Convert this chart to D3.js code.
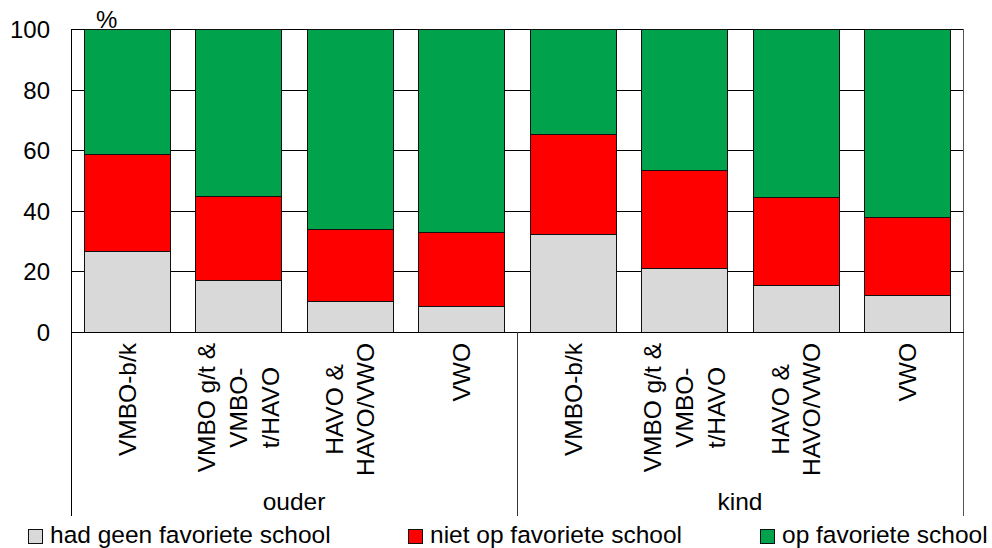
<!DOCTYPE html>
<html>
<head>
<meta charset="utf-8">
<script src="https://cdn.jsdelivr.net/npm/d3@7"></script>
<style>
  html, body { margin: 0; padding: 0; background: #fff; }
  svg { display: block; }
  text { font-family: "Liberation Sans", Arial, sans-serif; fill: #000; }
</style>
</head>
<body>
<svg id="chart" width="992" height="548"></svg>
<script>
// ---- data ----
const groups = ["ouder", "kind"];
const categoryLabels = [
  ["VMBO-b/k"],
  ["VMBO g/t &", "VMBO-", "t/HAVO"],
  ["HAVO &", "HAVO/VWO"],
  ["VWO"]
];
const seriesNames = ["had geen favoriete school", "niet op favoriete school", "op favoriete school"];
const geenFavoriet = [26.7, 17.0, 10.3, 8.7, 32.2, 21.0, 15.5, 12.3];
const nietOpFavoriet = [32.1, 28.0, 23.8, 24.4, 33.3, 32.5, 29.1, 25.8];
const opFavoriet = [41.2, 55.0, 65.9, 66.9, 34.5, 46.5, 55.4, 61.9];
const yTicks = [0, 20, 40, 60, 80, 100];
const yUnit = "%";

// ---- build table ----
const keys = ["geen", "niet", "op"];
const colors = { geen: "#d9d9d9", niet: "#ff0000", op: "#00a34b" };
const rows = [];
groups.forEach((g, gi) => {
  categoryLabels.forEach((c, ci) => {
    const i = gi * categoryLabels.length + ci;
    rows.push({ id: g + "|" + ci, group: g, lines: c,
      geen: geenFavoriet[i], niet: nietOpFavoriet[i], op: opFavoriet[i] });
  });
});

const svg = d3.select("#chart");
const L = 71, R = 963, T = 29, B = 332;
const FS = 24.5;

const x = d3.scaleBand().domain(rows.map(d => d.id)).range([L, R])
  .paddingInner(0.233).paddingOuter(0.1165);
const y = d3.scaleLinear().domain([0, 100]).range([B, T]);

const stack = d3.stack().keys(keys)(rows);

// gridlines
svg.append("g").selectAll("line").data(yTicks.filter(t => t > 0)).join("line")
  .attr("x1", L).attr("x2", R)
  .attr("y1", d => Math.round(y(d)) + 0.5).attr("y2", d => Math.round(y(d)) + 0.5)
  .attr("stroke", "#000").attr("stroke-width", 1);

// right border of plot
svg.append("line").attr("x1", R + 0.5).attr("x2", R + 0.5).attr("y1", T).attr("y2", 516)
  .attr("stroke", "#555").attr("stroke-width", 1);

// bars
svg.append("g").selectAll("g").data(stack).join("g")
  .attr("fill", d => colors[d.key])
  .selectAll("rect").data(d => d).join("rect")
  .attr("x", d => Math.round(x(d.data.id)) + 0.5)
  .attr("width", Math.round(x.bandwidth()))
  .attr("y", d => Math.round(y(d[1])) + 0.5)
  .attr("height", d => Math.round(y(d[0])) - Math.round(y(d[1])))
  .attr("stroke", "#111").attr("stroke-width", 1);

// axes lines
svg.append("line").attr("x1", L + 0.5).attr("x2", L + 0.5).attr("y1", T).attr("y2", 516)
  .attr("stroke", "#000");
svg.append("line").attr("x1", L).attr("x2", R + 1).attr("y1", Math.round(y(0)) + 0.5).attr("y2", Math.round(y(0)) + 0.5)
  .attr("stroke", "#000");

// group separator
const sepX = Math.round(x(rows[categoryLabels.length].id) - x.step() * x.paddingInner() / 2);
svg.append("line").attr("x1", sepX + 0.5).attr("x2", sepX + 0.5).attr("y1", B).attr("y2", 516)
  .attr("stroke", "#333");

// y tick labels
svg.append("g").selectAll("text").data(yTicks).join("text")
  .attr("x", 50).attr("y", d => y(d) + 9)
  .attr("text-anchor", "end").attr("font-size", 24).text(d => d);

// unit
svg.append("text").attr("x", 96).attr("y", 28).attr("font-size", 24).text(yUnit);

// category labels (rotated, lines centered inside a top-aligned block)
const lineH = 31.8, blockTop = 343;
rows.forEach(r => {
  const cx = x(r.id) + x.bandwidth() / 2;
  const g = svg.append("g");
  const n = r.lines.length;
  const texts = r.lines.map((ln, i) => g.append("text")
    .attr("font-size", FS).attr("text-anchor", "middle")
    .attr("y", (i - (n - 1) / 2) * lineH + 8.8)
    .text(ln));
  const maxLen = d3.max(texts, t => t.node().getComputedTextLength());
  g.attr("transform", `translate(${cx},${blockTop + maxLen / 2}) rotate(-90)`);
});

// group labels
groups.forEach((g, gi) => {
  const first = x(rows[gi * categoryLabels.length].id);
  const last = x(rows[gi * categoryLabels.length + categoryLabels.length - 1].id) + x.bandwidth();
  svg.append("text").attr("x", (first + last) / 2).attr("y", 510)
    .attr("text-anchor", "middle").attr("font-size", FS).text(g);
});

// legend
const legendX = [28, 408, 760];
const lg = svg.append("g").selectAll("g").data(keys).join("g")
  .attr("transform", (d, i) => `translate(${legendX[i]},0)`);
lg.append("rect").attr("x", 0.5).attr("y", 529.5).attr("width", 14).attr("height", 14)
  .attr("fill", d => colors[d]).attr("stroke", "#111");
lg.append("text").attr("x", 22).attr("y", 543).attr("font-size", FS)
  .text((d, i) => seriesNames[i]);
</script>
</body>
</html>
